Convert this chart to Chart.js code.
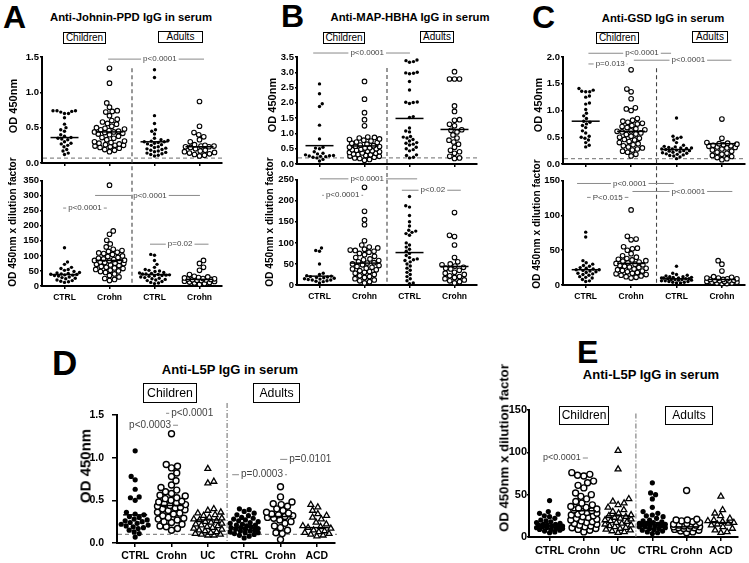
<!DOCTYPE html>
<html><head><meta charset="utf-8">
<script src="https://cdn.jsdelivr.net/npm/chart.js@4.4.1/dist/chart.umd.min.js"></script>
<style>
body{margin:0;width:749px;height:563px;background:#fff;position:relative;overflow:hidden;font-family:"Liberation Sans",Arial,sans-serif;}
canvas{position:absolute;}
.t{position:absolute;white-space:nowrap;color:#000;line-height:1;}
.letter{font-weight:bold;}
.ctr{transform:translateX(-50%);font-weight:bold;}
.box{border:1px solid #000;text-align:center;box-sizing:border-box;}
.yt{font-weight:bold;transform:translate(-50%,-50%) rotate(-90deg);}
</style></head><body>
<script>
// ---------- DATA ----------
const catsABC = ['CTRL','Crohn','CTRL','Crohn'];
const catsDE = ['CTRL','Crohn','UC','CTRL','Crohn','ACD'];

// Panel A : Anti-Johnin-PPD
const aOdKidCtrl = [0.74,0.74,0.74,0.73,0.72,0.70,0.70,0.64,0.55,0.50,0.47,0.45,0.40,0.38,0.36,0.35,0.34,0.33,0.30,0.28,0.27,0.25,0.23,0.19,0.17,0.14,0.12];
const aOdKidCd = [1.34,1.13,0.85,0.79,0.74,0.73,0.72,0.67,0.62,0.60,0.58,0.56,0.55,0.52,0.50,0.49,0.48,0.47,0.46,0.45,0.44,0.44,0.43,0.42,0.41,0.40,0.38,0.36,0.35,0.33,0.31,0.30,0.29,0.28,0.27,0.26,0.25,0.25,0.24,0.23,0.22,0.21,0.19,0.18,0.16];
const aOdAdCtrl = [1.32,1.21,0.67,0.56,0.47,0.45,0.41,0.35,0.33,0.32,0.31,0.30,0.30,0.29,0.28,0.27,0.26,0.25,0.23,0.22,0.21,0.20,0.19,0.18,0.17,0.16,0.15,0.14,0.13,0.12,0.11,0.10];
const aOdAdCd = [0.87,0.52,0.43,0.40,0.37,0.33,0.30,0.26,0.25,0.24,0.24,0.23,0.23,0.22,0.20,0.18,0.17,0.16,0.15,0.14,0.13,0.12,0.11,0.10];
const aOdMedians = [0.36,0.44,0.30,0.23];
const aDilKidCtrl = [127,80,72,62,58,55,52,48,45,43,42,40,39,38,37,36,35,33,30,28,26,24,20,18,16,14,12];
const aDilKidCd = [335,183,172,152,140,130,122,118,115,112,110,108,105,100,98,95,92,90,88,86,85,84,82,80,78,76,75,72,70,68,65,62,60,58,55,52,50,48,45,40,35,30,25,22,18];
const aDilAdCtrl = [105,102,85,72,62,55,52,50,48,45,43,42,40,40,38,37,36,35,34,32,30,28,26,24,22,20,18,15,12,10,8];
const aDilAdCd = [85,75,62,52,38,32,30,28,27,25,24,23,22,21,20,19,18,16,15,13,12,10,8,6];
const aDilMedians = [38,85,38,22];

// Panel B : Anti-MAP-HBHA
const bOdKidCtrl = [2.62,2.30,1.97,1.88,1.27,0.82,0.55,0.52,0.50,0.40,0.35,0.33,0.30,0.28,0.27,0.26,0.25,0.24,0.22,0.20,0.15,0.10];
const bOdKidCd = [2.70,2.12,1.68,1.45,1.25,0.88,0.87,0.85,0.82,0.80,0.78,0.75,0.72,0.70,0.68,0.65,0.62,0.60,0.58,0.57,0.55,0.53,0.52,0.50,0.48,0.47,0.45,0.43,0.42,0.40,0.38,0.36,0.35,0.33,0.31,0.30,0.28,0.26,0.25,0.22,0.20,0.18,0.15,0.12];
const bOdAdCtrl = [3.40,3.38,3.35,3.33,3.00,2.98,2.97,2.95,2.70,2.42,2.03,2.02,2.01,1.98,1.55,1.52,1.18,1.08,1.05,0.90,0.88,0.85,0.80,0.75,0.70,0.68,0.65,0.62,0.55,0.50,0.47,0.43,0.30,0.28,0.22,0.20];
const bOdAdCd = [3.02,2.78,2.78,2.78,1.90,1.72,1.45,1.43,1.30,1.25,1.12,1.10,1.05,0.95,0.85,0.78,0.72,0.65,0.55,0.45,0.40,0.35,0.25,0.20,0.18];
const bOdMedians = [0.60,0.59,1.49,1.13];
const bDilKidCtrl = [88,82,80,50,28,25,22,21,20,19,18,17,16,15,14,13,12,12,10,9,8,5];
const bDilKidCd = [232,175,155,143,105,95,90,88,85,83,82,80,78,75,72,68,65,62,60,58,55,53,52,50,48,46,44,42,40,38,36,34,32,30,28,25,22,20,18,15,12,10,8,5];
const bDilAdCtrl = [210,188,185,165,150,140,130,128,125,122,118,100,95,90,85,80,75,70,65,62,60,58,55,50,45,40,35,30,25,20,15,10,5,3];
const bDilAdCd = [172,118,115,95,65,55,50,48,45,42,40,38,35,30,28,25,22,20,18,15,12,10,8,5];
const bDilMedians = [21,52,77,44];

// Panel C : Anti-GSD
const cOdKidCtrl = [1.41,1.38,1.36,1.35,1.35,1.27,1.25,1.14,1.12,1.02,0.95,0.90,0.85,0.80,0.78,0.75,0.72,0.68,0.62,0.58,0.52,0.50,0.48,0.45,0.40,0.35,0.32];
const cOdKidCd = [1.76,1.40,1.35,1.22,1.05,1.03,1.00,0.85,0.82,0.80,0.78,0.76,0.75,0.72,0.70,0.68,0.66,0.64,0.62,0.61,0.60,0.58,0.56,0.55,0.52,0.50,0.48,0.46,0.45,0.42,0.40,0.38,0.36,0.34,0.32,0.30,0.28,0.26,0.24,0.22,0.18,0.15];
const cOdAdCtrl = [0.86,0.52,0.50,0.48,0.45,0.40,0.35,0.33,0.32,0.31,0.30,0.30,0.29,0.28,0.28,0.27,0.26,0.25,0.25,0.24,0.23,0.22,0.21,0.20,0.19,0.18,0.17,0.16,0.15,0.13,0.10];
const cOdAdCd = [0.84,0.48,0.40,0.39,0.38,0.37,0.36,0.35,0.34,0.33,0.32,0.31,0.30,0.28,0.26,0.24,0.22,0.20,0.18,0.16,0.14,0.12,0.10,0.08];
const cOdMedians = [0.80,0.61,0.27,0.38];
const cDilKidCtrl = [76,69,35,32,30,28,27,25,24,23,22,22,21,20,19,18,17,16,15,14,12,11,10,8,6,5];
const cDilKidCd = [108,70,66,65,55,53,52,50,45,42,40,38,37,36,35,34,33,32,31,30,29,28,27,26,25,24,23,22,21,20,19,18,17,16,15,14,13,12,11,10];
const cDilAdCtrl = [27,17,15,14,13,12,12,11,11,10,10,10,9,9,9,8,8,8,7,7,6,6,5,5,4,4,3,3];
const cDilAdCd = [35,30,20,12,11,10,10,9,9,8,8,7,7,6,6,5,5,4,4,3,3,2,2];
const cDilMedians = [22,31,9,8];

// Panel D : Anti-L5P OD
const dKidCtrl = [1.08,0.78,0.74,0.63,0.54,0.53,0.50,0.36,0.34,0.33,0.31,0.30,0.28,0.27,0.26,0.25,0.24,0.23,0.22,0.21,0.20,0.19,0.18,0.17,0.15,0.13,0.11,0.07];
const dKidCd = [1.28,0.92,0.90,0.88,0.82,0.78,0.73,0.68,0.65,0.62,0.60,0.58,0.56,0.55,0.53,0.52,0.50,0.49,0.48,0.47,0.46,0.45,0.44,0.43,0.42,0.41,0.40,0.39,0.38,0.36,0.35,0.34,0.32,0.30,0.29,0.28,0.27,0.25,0.24,0.22,0.20,0.19,0.17,0.15];
const dKidUc = [0.87,0.72,0.70,0.40,0.38,0.36,0.35,0.33,0.32,0.30,0.29,0.28,0.27,0.26,0.25,0.24,0.23,0.22,0.21,0.20,0.19,0.18,0.17,0.16,0.15,0.14,0.13,0.12,0.11,0.10,0.10,0.09,0.09];
const dAdCtrl = [0.40,0.39,0.37,0.35,0.33,0.32,0.30,0.29,0.28,0.27,0.26,0.25,0.24,0.23,0.22,0.21,0.21,0.20,0.19,0.18,0.18,0.17,0.16,0.16,0.15,0.14,0.14,0.13,0.12,0.12,0.11,0.10,0.09,0.08,0.06];
const dAdCd = [0.66,0.54,0.48,0.46,0.45,0.43,0.40,0.38,0.36,0.35,0.34,0.33,0.32,0.31,0.30,0.29,0.27,0.25,0.23,0.20,0.18,0.15,0.12,0.11,0.04];
const dAdAcd = [0.45,0.42,0.38,0.34,0.32,0.30,0.28,0.24,0.22,0.20,0.19,0.18,0.17,0.15,0.14,0.13,0.12,0.11,0.10,0.09,0.08];
const dMedians = [0.33,0.44,0.27,0.18,0.31,0.18];

// Panel E : Anti-L5P x dilution
const eKidCtrl = [43,30,28,27,25,24,22,20,19,18,17,16,15,15,14,14,13,13,12,12,11,11,10,10,9,9,8,7,6,5];
const eKidCd = [76,74,73,72,66,64,61,58,52,50,48,45,42,40,38,36,35,34,33,32,31,30,29,28,27,26,25,24,23,22,21,20,19,18,17,16,15,14,13,12,11,10,9,8,6];
const eKidUc = [102,80,45,42,40,38,35,32,30,28,26,25,24,23,22,21,20,19,18,17,16,15,14,13,12,11,10,9,8,7,6,5];
const eAdCtrl = [64,52,50,45,35,30,28,26,25,24,22,20,19,18,17,16,16,15,15,14,14,13,13,12,12,11,10,10,9,8,7,6,5,4];
const eAdCd = [55,21,20,20,19,18,17,16,15,14,14,13,13,12,12,11,11,10,10,9,8,7,6,5];
const eAdAcd = [48,32,28,25,22,20,19,18,17,16,15,14,12,10,8,6,5];
const eMedians = [13,31,25,17,12,17];

const odTicks15 = [0,0.5,1.0,1.5];
const odTicks35 = [0,0.5,1.0,1.5,2.0,2.5,3.0,3.5];
const odTicks20 = [0,0.5,1.0,1.5,2.0];
const dilTicks350 = [0,50,100,150,200,250,300,350];
const dilTicks250 = [0,50,100,150,200,250];
const dilTicks150 = [0,50,100,150];

// ---------- DRAWING ----------
const FONT = '"Liberation Sans", Arial, sans-serif';
Chart.defaults.font.family = FONT;
const SM = [{shape:'circle',fill:true,r:1.7,d:3.8},{shape:'circle',fill:false,r:2.3,bw:1.1,d:5.0},{shape:'circle',fill:true,r:1.7,d:3.8},{shape:'circle',fill:false,r:2.3,bw:1.1,d:5.0}];
const LG = [{shape:'circle',fill:true,r:2.6,d:5.2},{shape:'circle',fill:false,r:3.0,bw:1.4,d:6.2},{shape:'triangle',fill:false,r:3.4,bw:1.3,d:6.2},{shape:'circle',fill:true,r:2.6,d:5.2},{shape:'circle',fill:false,r:3.0,bw:1.4,d:6.2},{shape:'triangle',fill:false,r:3.4,bw:1.3,d:6.2}];

// beeswarm: horizontal pixel offsets (kept within +/-maxHalf, overlap minimised)
function swarmOffsets(pys, d, maxHalf){
  const placed = [], out = [];
  pys.forEach((py, n)=>{
    let best = 0, bestCost = Infinity;
    for (let k = 0; k <= maxHalf*4; k++){
      const mag = k/4;
      const signs = mag === 0 ? [0] : ((n%2) ? [mag,-mag] : [-mag,mag]);
      for (const x of signs){
        let cost = 0;
        for (const p of placed){
          const dy = p.y - py; if (Math.abs(dy) >= d) continue;
          const dist = Math.hypot(p.x - x, dy);
          if (dist < d) cost += (d - dist)*(d - dist);
        }
        if (cost < bestCost - 1e-9){ bestCost = cost; best = x; }
      }
      if (bestCost === 0) break;
    }
    placed.push({x:best, y:py}); out.push(best);
  });
  return out;
}

function makePanel(cfg){
  const c = document.createElement('canvas');
  const W = cfg.yw + (cfg.R - cfg.L) + cfg.padR;
  const H = cfg.padT + (cfg.B - cfg.T) + cfg.xh;
  c.width = W; c.height = H;
  c.style.left = (cfg.L - cfg.yw) + 'px'; c.style.top = (cfg.T - cfg.padT) + 'px';
  c.style.width = W + 'px'; c.style.height = H + 'px';
  document.body.appendChild(c);
  const datasets = cfg.groups.map((vals,i)=>{
    const st = cfg.styles[i];
    return {data: vals.map(v=>({x:i+1,y:v})), pointStyle: st.shape, pointRadius: st.r, pointHoverRadius: st.r,
      backgroundColor: st.fill ? '#000' : '#fff', borderColor:'#000', borderWidth: st.fill ? 0 : st.bw, showLine:false, clip:false};
  });
  const plug = {
    id:'extras',
    beforeDatasetsDraw(chart){
      const ctx = chart.ctx, xs = chart.scales.x, ys = chart.scales.y, ca = chart.chartArea;
      ctx.save();
      if (cfg.cutoff !== undefined){
        const y = ys.getPixelForValue(cfg.cutoff);
        ctx.strokeStyle = '#8a8a8a'; ctx.lineWidth = 1.3; ctx.setLineDash([4,3]);
        ctx.beginPath(); ctx.moveTo(ca.left+1, y); ctx.lineTo(ca.right + (cfg.cutExt||0), y); ctx.stroke();
      }
      if (cfg.div){
        const x = xs.getPixelForValue(cfg.div.x);
        const y0 = cfg.div.top !== undefined ? ys.getPixelForValue(cfg.div.top) : ca.top;
        ctx.strokeStyle = cfg.div.color || '#444'; ctx.lineWidth = 1.1; ctx.setLineDash(cfg.div.dash || [4,3]);
        ctx.beginPath(); ctx.moveTo(x, y0); ctx.lineTo(x, ca.bottom + (cfg.div.ext||0)); ctx.stroke();
      }
      ctx.restore();
    },
    afterDatasetsDraw(chart){
      const ctx = chart.ctx, xs = chart.scales.x, ys = chart.scales.y;
      ctx.save();
      ctx.strokeStyle = '#000'; ctx.lineWidth = 1.5;
      cfg.medians.forEach((m,i)=>{
        const x = xs.getPixelForValue(i+1), y = ys.getPixelForValue(m);
        ctx.beginPath(); ctx.moveTo(x-cfg.medHalf, y); ctx.lineTo(x+cfg.medHalf, y); ctx.stroke();
      });
      ctx.font = cfg.annFont + 'px ' + FONT;
      ctx.textAlign = 'center'; ctx.textBaseline = 'middle';
      (cfg.annots||[]).forEach(a=>{
        const x1 = xs.getPixelForValue(a.x1), x2 = xs.getPixelForValue(a.x2), y = ys.getPixelForValue(a.y);
        const tx = xs.getPixelForValue(a.tx !== undefined ? a.tx : (a.x1+a.x2)/2);
        const w = ctx.measureText(a.text).width/2 + 2;
        ctx.strokeStyle = '#8a8a8a'; ctx.lineWidth = 1;
        ctx.beginPath();
        if (tx - w > x1){ ctx.moveTo(x1, y); ctx.lineTo(tx - w, y); }
        if (tx + w < x2){ ctx.moveTo(tx + w, y); ctx.lineTo(x2, y); }
        ctx.stroke();
        ctx.fillStyle = '#444'; ctx.fillText(a.text, tx, y);
      });
      ctx.restore();
    }
  };
  const chart = new Chart(c, {
    type:'scatter',
    data:{datasets},
    options:{
      responsive:false, animation:false, devicePixelRatio:1,
      layout:{padding:{top:cfg.padT, right:cfg.padR, left:0, bottom:0}},
      plugins:{legend:{display:false}, tooltip:{enabled:false}},
      scales:{
        x:{type:'linear', min:cfg.xmin, max:cfg.xmax,
          afterBuildTicks: s=>{ s.ticks = cfg.cats.map((_,i)=>({value:i+1})); },
          ticks:{autoSkip:false, maxRotation:0, padding:cfg.xpad, color:'#000',
            font:{size:cfg.catFont, weight:'bold'},
            callback:(v,i)=> cfg.showCats ? cfg.cats[i] : ''},
          grid:{drawOnChartArea:false, drawTicks:true, tickLength:cfg.xtl, color:'#000', lineWidth:1.5},
          border:{display:true, color:'#000', width:2},
          afterFit: s=>{ s.height = cfg.xh; }
        },
        y:{type:'linear', min:0, max:cfg.ymax,
          afterBuildTicks: s=>{ s.ticks = cfg.yticks.map(v=>({value:v})); },
          ticks:{padding:cfg.ypad, color:'#000', font:{size:cfg.tickFont, weight:'bold'},
            callback: v=> cfg.dec ? Number(v).toFixed(1) : String(Math.round(v))},
          grid:{drawOnChartArea:false, drawTicks:true, tickLength:cfg.ytl, color:'#000', lineWidth:1.5},
          border:{display:true, color:'#000', width:2},
          afterFit: s=>{ s.width = cfg.yw; }
        }
      }
    },
    plugins:[plug]
  });
  // beeswarm arrangement computed from the values
  const xs = chart.scales.x, ys = chart.scales.y;
  const unit = xs.getPixelForValue(2) - xs.getPixelForValue(1);
  cfg.groups.forEach((vals,gi)=>{
    const st = cfg.styles[gi];
    const sorted = vals.slice().sort((a,b)=>a-b);
    const offs = swarmOffsets(sorted.map(v=>ys.getPixelForValue(v)), st.d, cfg.maxHalf);
    chart.data.datasets[gi].data = sorted.map((v,k)=>({x: gi+1 + offs[k]/unit, y:v}));
  });
  chart.update('none');
  return chart;
}

const base = {yw:40, padR:6, xmin:0.5, xmax:4.5, cats:catsABC, styles:SM, medHalf:14, annFont:8, tickFont:9.5, catFont:8.5, xpad:4, xtl:3, ytl:2, ypad:1, maxHalf:15};

makePanel(Object.assign({}, base, {L:42,R:222,T:57,B:163,padT:12,xh:16,ymax:1.5,yticks:odTicks15,dec:true,showCats:false,
  groups:[aOdKidCtrl,aOdKidCd,aOdAdCtrl,aOdAdCd], medians:aOdMedians, cutoff:0.07,
  div:{x:2.5,top:1.34,ext:15}, annots:[{x1:1.97,x2:4.1,y:1.47,text:'p<0.0001',tx:3.12}]}));
makePanel(Object.assign({}, base, {L:42,R:222,T:178,B:286,padT:4,xh:22,ymax:350,yticks:dilTicks350,dec:false,showCats:true,
  groups:[aDilKidCtrl,aDilKidCd,aDilAdCtrl,aDilAdCd], medians:aDilMedians,
  div:{x:2.5}, annots:[{x1:0.97,x2:1.94,y:259,text:'p<0.0001'},{x1:1.68,x2:4.01,y:301,text:'p<0.0001',tx:2.9},{x1:2.9,x2:4.2,y:139,text:'p=0.02',tx:3.57}]}));

makePanel(Object.assign({}, base, {L:297,R:477,T:57,B:164,padT:12,xh:16,ymax:3.5,yticks:odTicks35,dec:true,showCats:false,
  groups:[bOdKidCtrl,bOdKidCd,bOdAdCtrl,bOdAdCd], medians:bOdMedians, cutoff:0.2,
  div:{x:2.5,top:3.14,ext:13}, annots:[{x1:0.86,x2:3.01,y:3.63,text:'p<0.0001',tx:2.06}]}));
makePanel(Object.assign({}, base, {L:297,R:477,T:177,B:285,padT:4,xh:22,ymax:250,yticks:dilTicks250,dec:false,showCats:true,
  groups:[bDilKidCtrl,bDilKidCd,bDilAdCtrl,bDilAdCd], medians:bDilMedians,
  div:{x:2.5}, annots:[{x1:1.01,x2:3.17,y:252,text:'p<0.0001',tx:2.06},{x1:1.06,x2:1.97,y:213,text:'p<0.0001'},{x1:2.83,x2:4.14,y:225,text:'p<0.02',tx:3.52}]}));

makePanel(Object.assign({}, base, {L:563,R:745,T:57,B:164,padR:3,padT:12,xh:16,ymax:2.0,yticks:odTicks20,dec:true,showCats:false,
  groups:[cOdKidCtrl,cOdKidCd,cOdAdCtrl,cOdAdCd], medians:cOdMedians, cutoff:0.1,
  div:{x:2.56,top:1.79,ext:14}, annots:[{x1:1.06,x2:2.88,y:2.07,text:'p<0.0001',tx:2.24},{x1:1.06,x2:1.92,y:1.87,text:'p=0.013',tx:1.54},{x1:2.06,x2:4.21,y:1.94,text:'p<0.0001',tx:3.26}]}));
makePanel(Object.assign({}, base, {L:563,R:745,T:178,B:285,padR:3,padT:4,xh:22,ymax:150,yticks:dilTicks150,dec:false,showCats:true,
  groups:[cDilKidCtrl,cDilKidCd,cDilAdCtrl,cDilAdCd], medians:cDilMedians,
  div:{x:2.56}, annots:[{x1:0.81,x2:2.94,y:146,text:'p<0.0001',tx:1.97},{x1:1.03,x2:1.94,y:126,text:'P<0.015'},{x1:2.03,x2:4.23,y:134.5,text:'p<0.0001',tx:3.26}]}));

const big = {yw:36, padR:12, cats:catsDE, styles:LG, medHalf:12, annFont:10, tickFont:10.5, catFont:10.5, xh:24, xpad:3, xtl:4, ytl:5, ypad:8, maxHalf:14};
makePanel(Object.assign({}, big, {L:117,R:335,T:415,B:543,padT:22,xmin:0.5,xmax:6.5,ymax:1.5,yticks:odTicks15,dec:true,showCats:true,
  groups:[dKidCtrl,dKidCd,dKidUc,dAdCtrl,dAdCd,dAdAcd], medians:dMedians, cutoff:0.1, cutExt:2,
  div:{x:3.53,top:1.64,dash:[5,2,1,2],color:'#777'},
  annots:[{x1:0.80,x2:2.18,y:1.38,text:'p<0.0003',tx:1.41},{x1:1.85,x2:3.2,y:1.52,text:'p<0.0001',tx:2.57},{x1:3.67,x2:5.18,y:0.80,text:'p=0.0003',tx:4.49},{x1:4.99,x2:6.37,y:0.98,text:'p=0.0101',tx:5.82}]}));
makePanel(Object.assign({}, big, {L:529,R:738,T:410,B:537,yw:30,padR:8,padT:10,xmin:0.4,xmax:6.5,ymax:150,yticks:dilTicks150,dec:false,showCats:true,tickFont:11,catFont:11,annFont:9,ytl:2,ypad:0,maxHalf:13,
  groups:[eKidCtrl,eKidCd,eKidUc,eAdCtrl,eAdCd,eAdAcd], medians:eMedians,
  div:{x:3.52,top:146,dash:[5,2,1,2],color:'#777'},
  annots:[{x1:0.75,x2:2.12,y:93.3,text:'p<0.0001',tx:1.36}]}));

// ---------- TEXT ----------
function txt(cls, s, css){ const d = document.createElement('div'); d.className = 't ' + cls; d.textContent = s; Object.assign(d.style, css); document.body.appendChild(d); }
txt('letter','A',{left:'3px',top:'1px',fontSize:'32px'});
txt('letter','B',{left:'281px',top:'0px',fontSize:'32px'});
txt('letter','C',{left:'532px',top:'1px',fontSize:'32px'});
txt('letter','D',{left:'52px',top:'345px',fontSize:'35px'});
txt('letter','E',{left:'577px',top:'336px',fontSize:'32px'});
txt('ctr','Anti-Johnin-PPD IgG in serum',{left:'131px',top:'12px',fontSize:'11.3px'});
txt('ctr','Anti-MAP-HBHA IgG in serum',{left:'410px',top:'12px',fontSize:'11.3px'});
txt('ctr','Anti-GSD IgG in serum',{left:'663px',top:'13px',fontSize:'11.3px'});
txt('ctr','Anti-L5P IgG in serum',{left:'230px',top:'363px',fontSize:'13px'});
txt('ctr','Anti-L5P IgG in serum',{left:'651px',top:'368px',fontSize:'13px'});
function box(s, l, t, w, h, fs){ txt('box', s, {left:l+'px', top:t+'px', width:w+'px', height:h+'px', fontSize:fs+'px', lineHeight:(h-2)+'px'}); }
box('Children',63,32,43,12,10); box('Adults',158,31,45,12,10);
box('Children',323,32,42,12,10); box('Adults',420,31,34,12,10);
box('Children',596,32,43,12,10); box('Adults',692,31,36,12,10);
box('Children',143,383,54,20,12.3); box('Adults',253,383,47,20,12.3);
box('Children',559,406,50,19,12); box('Adults',665,406,48,19,12);
function yt(s, x, y, fs){ txt('yt', s, {left:x+'px', top:y+'px', fontSize:fs+'px'}); }
yt('OD 450nm',13,106,11); yt('OD 450nm x dilution factor',13,222,10.2);
yt('OD 450nm',272,105,11); yt('OD 450nm x dilution factor',270,222,10.2);
yt('OD 450nm',538,105,11); yt('OD 450nm x dilution factor',537,224,10.2);
yt('OD 450nm',85,466,15); yt('OD 450nm x dilution factor',504,448,13.2);
</script>
</body></html>
